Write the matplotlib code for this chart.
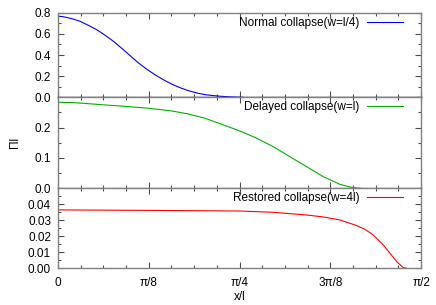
import numpy as np
import matplotlib
matplotlib.use('Agg')
import matplotlib.pyplot as plt
from matplotlib.ticker import FixedLocator, FormatStrFormatter

plt.rcParams['font.family'] = ['Liberation Sans', 'DejaVu Sans']
plt.rcParams['font.size'] = 8.5

# Values (x in units of x/l, radians)
x_normal = [0.0, 0.023, 0.059, 0.095, 0.131, 0.167, 0.203, 0.239, 0.276, 0.312,
            0.348, 0.384, 0.420, 0.456, 0.492, 0.528, 0.564, 0.600, 0.636, 0.672,
            0.708, 0.752, 0.80]
pi_normal = [0.767, 0.762, 0.744, 0.719, 0.681, 0.640, 0.588, 0.531, 0.463, 0.394,
             0.325, 0.266, 0.213, 0.166, 0.125, 0.091, 0.063, 0.041, 0.025, 0.016,
             0.009, 0.003, 0.0]

x_delayed = [0.0, 0.065, 0.131, 0.200, 0.276, 0.391, 0.492, 0.564, 0.636, 0.708,
             0.787, 0.860, 0.932, 1.004, 1.076, 1.148, 1.220, 1.264, 1.293, 1.31]
pi_delayed = [0.2835, 0.2825, 0.279, 0.275, 0.271, 0.264, 0.255, 0.245, 0.231, 0.211,
              0.189, 0.165, 0.137, 0.104, 0.071, 0.0385, 0.013, 0.004, 0.001, 0.0]

x_restored = [0.0, 0.39, 0.70, 0.7876, 0.932, 1.076, 1.148, 1.220, 1.2925, 1.33,
              1.364, 1.4075, 1.4365, 1.4655, 1.494, 1.509]
pi_restored = [0.0365, 0.0362, 0.0359, 0.0358, 0.0350, 0.0333, 0.0321, 0.0302, 0.0267,
               0.0242, 0.0208, 0.0146, 0.0094, 0.0042, 0.0004, 0.0]

labels = ['Normal collapse(w=l/4)', 'Delayed collapse(w=l)', 'Restored collapse(w=4l)']
colors = ['#0000ff', '#00b000', '#ff0000']

xticks = [0, np.pi / 8, np.pi / 4, 3 * np.pi / 8, np.pi / 2]
xticklabels = ['0', 'π/8', 'π/4', '3π/8', 'π/2']

fig = plt.figure(figsize=(4.36, 3.05), dpi=100)

W, H = 436.0, 305.0
left, right = 58 / W, 421 / W
# panel pixel rows (top, bottom)
rows = [(12.7, 97.3), (97.3, 188.3), (188.3, 268.3)]

panels = [
    (x_normal, pi_normal, 0.8, [0, 0.2, 0.4, 0.6, 0.8], np.arange(0.1, 0.8, 0.2), '%.1f'),
    (x_delayed, pi_delayed, 0.3, [0, 0.1, 0.2], [0.05, 0.15, 0.25], '%.1f'),
    (x_restored, pi_restored, 0.05, [0, 0.01, 0.02, 0.03, 0.04],
     np.arange(0.005, 0.05, 0.01), '%.2f'),
]

axes = []
for i, (xs, ys, ymax, yt, ymt, fmt) in enumerate(panels):
    t, b = rows[i]
    ax = fig.add_axes([left, (H - b) / H, right - left, (b - t) / H])
    ax.plot(xs, ys, color=colors[i], lw=0.8, label=labels[i])
    ax.set_xlim(0, np.pi / 2)
    ax.set_ylim(0, ymax)
    ax.yaxis.set_major_locator(FixedLocator(yt))
    ax.yaxis.set_minor_locator(FixedLocator(ymt))
    ax.yaxis.set_major_formatter(FormatStrFormatter(fmt))
    ax.xaxis.set_major_locator(FixedLocator(xticks))
    ax.xaxis.set_minor_locator(FixedLocator(np.arange(1, 16) * np.pi / 32))
    ax.tick_params(which='both', direction='in', top=True, right=True,
                   color='0.3', width=0.8)
    ax.tick_params(which='major', length=4, pad=5)
    ax.tick_params(axis='x', which='major', pad=6)
    ax.tick_params(which='minor', length=2.2)
    for s in ax.spines.values():
        s.set_color('0.5')
        s.set_linewidth(1.0)
    if i < 2:
        ax.set_xticklabels([])
    else:
        ax.set_xticklabels(xticklabels)
    ax.legend(loc='upper right', frameon=False, markerfirst=False,
              handlelength=3.0, handletextpad=0.7, borderpad=0,
              borderaxespad=0.35, bbox_to_anchor=(1 - 14 / 363, 1))
    axes.append(ax)

axes[0].spines['bottom'].set_color('black')
axes[2].set_xlabel('x/l', labelpad=2)
fig.text(15 / W, 1 - 142 / H, 'Πl', rotation=90, ha='center', va='center')

fig.savefig('out.png', dpi=100)
